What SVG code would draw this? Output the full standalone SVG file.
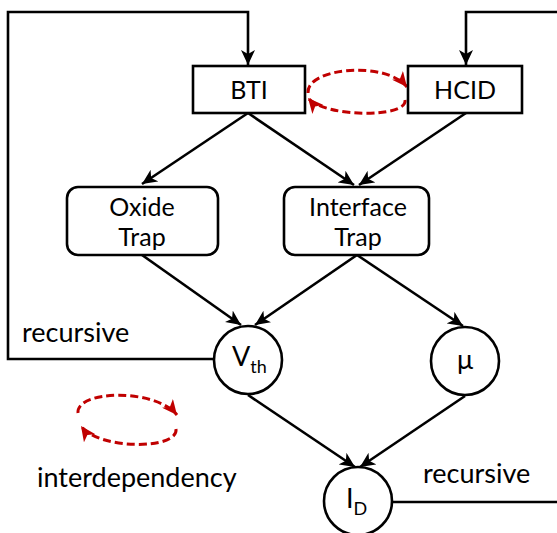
<svg xmlns="http://www.w3.org/2000/svg" width="557" height="533" viewBox="0 0 557 533">
<style>
.ln{fill:none;stroke:#000;stroke-width:2.6;stroke-linejoin:miter}
.ar{marker-end:url(#ah)}
.box{fill:#fff;stroke:#000;stroke-width:2.6}
.red{fill:none;stroke:#C00000;stroke-width:3;stroke-dasharray:8 4;marker-end:url(#rh)}
text{font-family:Lato,"Noto Sans",sans-serif;font-size:27px;fill:#000}
.c{text-anchor:middle}
.bx{font-size:25px}
.sub{font-size:18px}
</style>
<defs>
<marker id="ah" markerUnits="userSpaceOnUse" markerWidth="15" markerHeight="14" viewBox="0 0 15 14" refX="15" refY="7" orient="auto">
<path d="M0,0 L15,7 L0,14 L4,7 z" fill="#000"/>
</marker>
<marker id="rh" markerUnits="userSpaceOnUse" markerWidth="15" markerHeight="14" viewBox="0 0 15 14" refX="15" refY="7" orient="auto">
<path d="M0,0 L15,7 L0,14 L4,7 z" fill="#C00000"/>
</marker>
</defs>
<g id="connectors">
<path class="ln ar" d="M215,359 H8 V12 H248 V65"/>
<path class="ln ar" d="M560,12 H466 V65"/>
<path class="ln ar" d="M248,113 L142,184"/>
<path class="ln ar" d="M248,113 L354,185"/>
<path class="ln ar" d="M466,113 L359,185"/>
<path class="ln ar" d="M142,255 L241,325"/>
<path class="ln ar" d="M357,255 L255,325"/>
<path class="ln ar" d="M357,255 L463,326"/>
<path class="ln ar" d="M248,395 L355,467"/>
<path class="ln ar" d="M465,396 L360,467"/>
<path class="ln" d="M391,502 H560"/>
<path class="red" d="M308,93 C306,68 385,60 407,87"/>
<path class="red" d="M405,100 C408,118 325,118 308,98"/>
</g>
<g id="legend">
<path class="red" d="M78,413 C76,390 155,388 177,415"/>
<path class="red" d="M176,429 C179,450 98,450 81,426"/>
<text x="37" y="487">interdependency</text>
</g>
<g id="label-recursive-left"><text x="22" y="342">recursive</text></g>
<g id="label-recursive-right"><text x="423" y="483">recursive</text></g>
<g id="BTI">
<rect class="box" x="193" y="66" width="112" height="47"/>
<text class="c bx" x="249" y="99">BTI</text>
</g>
<g id="HCID">
<rect class="box" x="408" y="66" width="114" height="47"/>
<text class="c bx" x="465" y="99">HCID</text>
</g>
<g id="OxideTrap">
<rect class="box" x="67" y="187" width="151" height="68" rx="11"/>
<text class="c bx" x="142" y="216">Oxide</text>
<text class="c bx" x="142" y="246">Trap</text>
</g>
<g id="InterfaceTrap">
<rect class="box" x="284" y="187" width="145" height="68" rx="11"/>
<text class="c bx" x="358" y="216">Interface</text>
<text class="c bx" x="358" y="246">Trap</text>
</g>
<g id="Vth">
<circle class="box" cx="248" cy="360" r="34"/>
<text x="232" y="366">V<tspan class="sub" dy="7">th</tspan></text>
</g>
<g id="mu">
<circle class="box" cx="465" cy="361" r="34"/>
<text class="c" x="465" y="369">μ</text>
</g>
<g id="ID">
<circle class="box" cx="358" cy="501" r="34"/>
<text x="346" y="508">I<tspan class="sub" dy="7">D</tspan></text>
</g>
</svg>
